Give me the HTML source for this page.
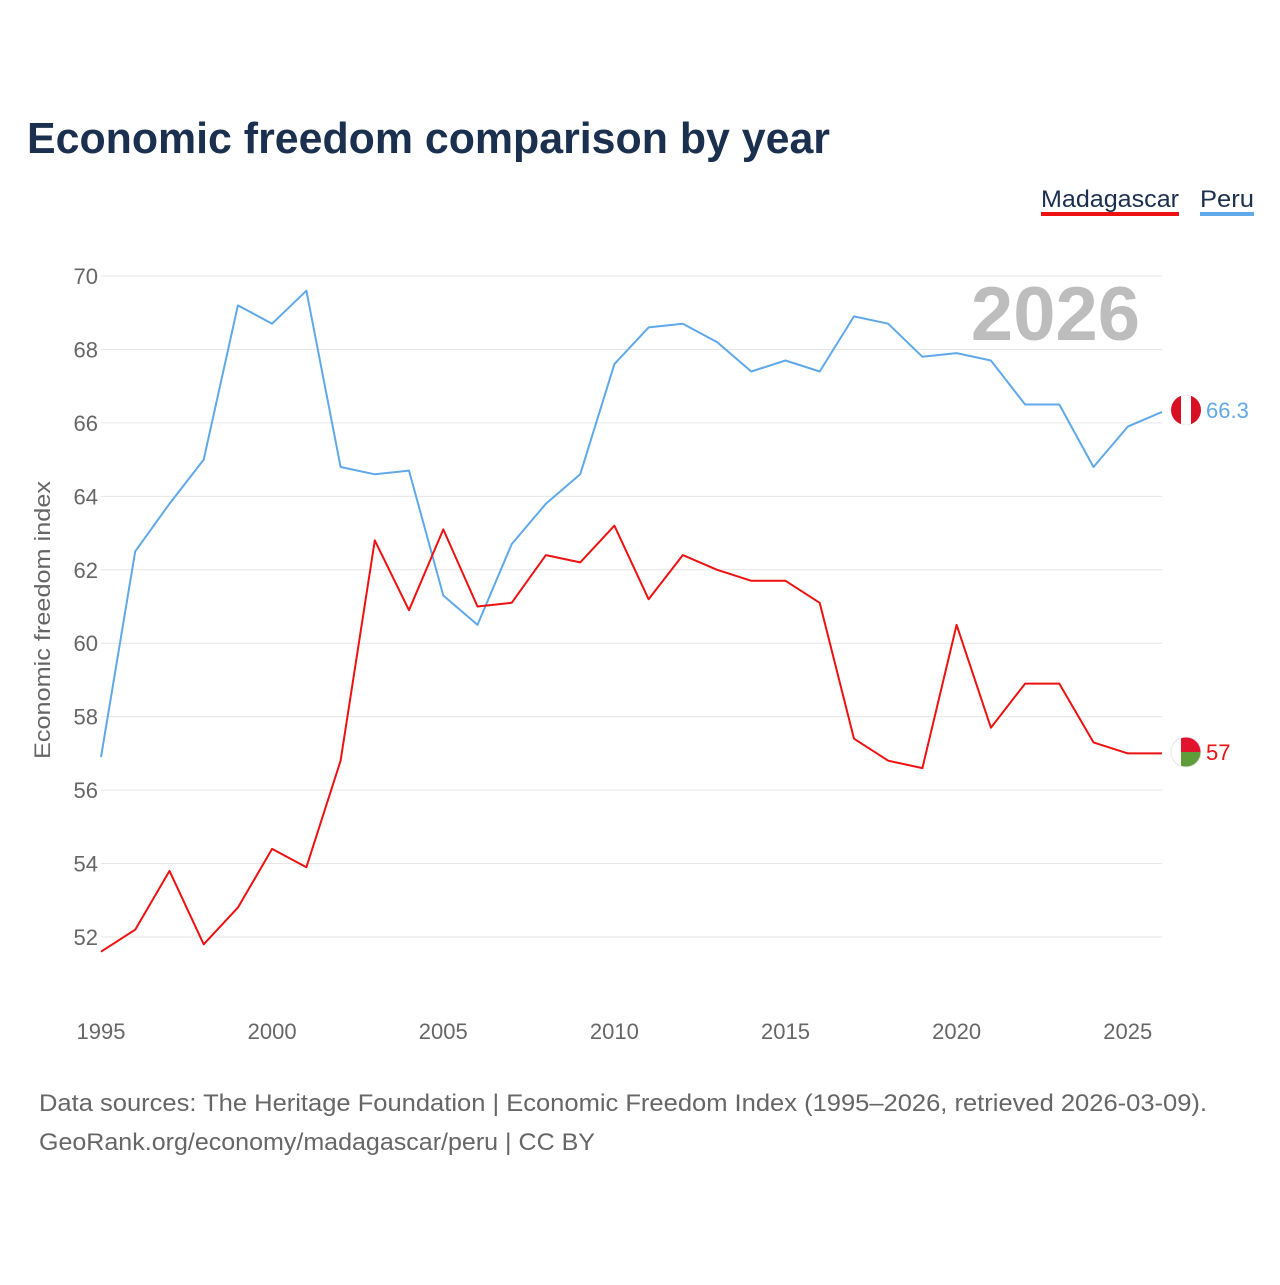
<!DOCTYPE html>
<html><head><meta charset="utf-8"><style>
body{margin:0;background:#fff;font-family:"Liberation Sans",sans-serif;}
</style></head><body>
<svg id="chart" width="1280" height="1280" viewBox="0 0 1280 1280" font-family="Liberation Sans, sans-serif">
<text x="27" y="153" font-size="44" font-weight="bold" fill="#1b2f4f" textLength="803" lengthAdjust="spacingAndGlyphs">Economic freedom comparison by year</text>
<g>
<text x="1041" y="207" font-size="24" fill="#1b2f4f" textLength="138" lengthAdjust="spacingAndGlyphs">Madagascar</text>
<rect x="1041" y="212" width="138" height="4" fill="#ee1111"/>
<text x="1200" y="207" font-size="24" fill="#1b2f4f" textLength="54" lengthAdjust="spacingAndGlyphs">Peru</text>
<rect x="1200" y="212" width="54" height="4" fill="#5fa8ea"/>
</g>
<text x="1140" y="340" font-size="76" font-weight="bold" fill="#bdbdbd" text-anchor="end">2026</text>
<g id="grid"></g><g id="yticks"></g><g id="xticks"></g><g id="series"></g>
<text transform="translate(50,620) rotate(-90)" font-size="22" fill="#666" text-anchor="middle" textLength="278" lengthAdjust="spacingAndGlyphs">Economic freedom index</text>
<g>
<clipPath id="cp1"><circle cx="1186" cy="410" r="15"/></clipPath>
<g clip-path="url(#cp1)"><rect x="1171" y="395" width="30" height="30" fill="#d91023"/><rect x="1181" y="395" width="10" height="30" fill="#fff"/></g>
</g>
<g>
<clipPath id="cp2"><circle cx="1186" cy="752" r="15"/></clipPath>
<g clip-path="url(#cp2)"><rect x="1171" y="737" width="30" height="30" fill="#fff"/><rect x="1181" y="737" width="20" height="15" fill="#e2132f"/><rect x="1181" y="752" width="20" height="15" fill="#5f9c3a"/></g>
<circle cx="1186" cy="752" r="15" fill="none" stroke="#e8e8e8" stroke-width="1"/>
</g>
<text x="1206" y="418" font-size="22" fill="#5fa8ea">66.3</text>
<text x="1206" y="760" font-size="22" fill="#ee1111">57</text>
<text x="39" y="1111" font-size="24" fill="#666" textLength="1168" lengthAdjust="spacingAndGlyphs">Data sources: The Heritage Foundation | Economic Freedom Index (1995–2026, retrieved 2026-03-09).</text>
<text x="39" y="1150" font-size="24" fill="#666" textLength="556" lengthAdjust="spacingAndGlyphs">GeoRank.org/economy/madagascar/peru | CC BY</text>
</svg>
<script>
const years=[1995,1996,1997,1998,1999,2000,2001,2002,2003,2004,2005,2006,2007,2008,2009,2010,2011,2012,2013,2014,2015,2016,2017,2018,2019,2020,2021,2022,2023,2024,2025,2026];
const peru=[56.9,62.5,63.8,65.0,69.2,68.7,69.6,64.8,64.6,64.7,61.3,60.5,62.7,63.8,64.6,67.6,68.6,68.7,68.2,67.4,67.7,67.4,68.9,68.7,67.8,67.9,67.7,66.5,66.5,64.8,65.9,66.3];
const madagascar=[51.6,52.2,53.8,51.8,52.8,54.4,53.9,56.8,62.8,60.9,63.1,61.0,61.1,62.4,62.2,63.2,61.2,62.4,62.0,61.7,61.7,61.1,57.4,56.8,56.6,60.5,57.7,58.9,58.9,57.3,57.0,57.0];
const yTicks=[52,54,56,58,60,62,64,66,68,70];
const xTicks=[1995,2000,2005,2010,2015,2020,2025];
const NS="http://www.w3.org/2000/svg";
const X=y=>101+(y-1995)*(1162-101)/31;
const Y=v=>276+(70-v)*(937-276)/18;
function mk(tag,attrs,parent){const e=document.createElementNS(NS,tag);for(const k in attrs)e.setAttribute(k,attrs[k]);document.getElementById(parent).appendChild(e);return e;}
yTicks.forEach(t=>{
 const l=mk('line',{x1:101,x2:1162,y1:Y(t),y2:Y(t),stroke:'#e6e6e6','stroke-width':1},'grid');
 
 
 const tx=mk('text',{x:98,y:Y(t)+8,'font-size':22,fill:'#666','text-anchor':'end'},'yticks');
 tx.textContent=t;
 
 
});
xTicks.forEach(t=>{
 const tx=mk('text',{x:X(t),y:1039,'font-size':22,fill:'#666','text-anchor':'middle'},'xticks');
 tx.textContent=t;
 
 
});
function line(vals,color,name){
 const d=vals.map((v,i)=>(i?'L':'M')+X(years[i]).toFixed(1)+','+Y(v).toFixed(1)).join(' ');
 const p=mk('path',{d:d,fill:'none',stroke:color,'stroke-width':2,'stroke-linejoin':'round'},'series');
 
 
}
line(peru,'#5fa8ea','peru-line');
line(madagascar,'#ee1111','madagascar-line');
</script>
</body></html>
